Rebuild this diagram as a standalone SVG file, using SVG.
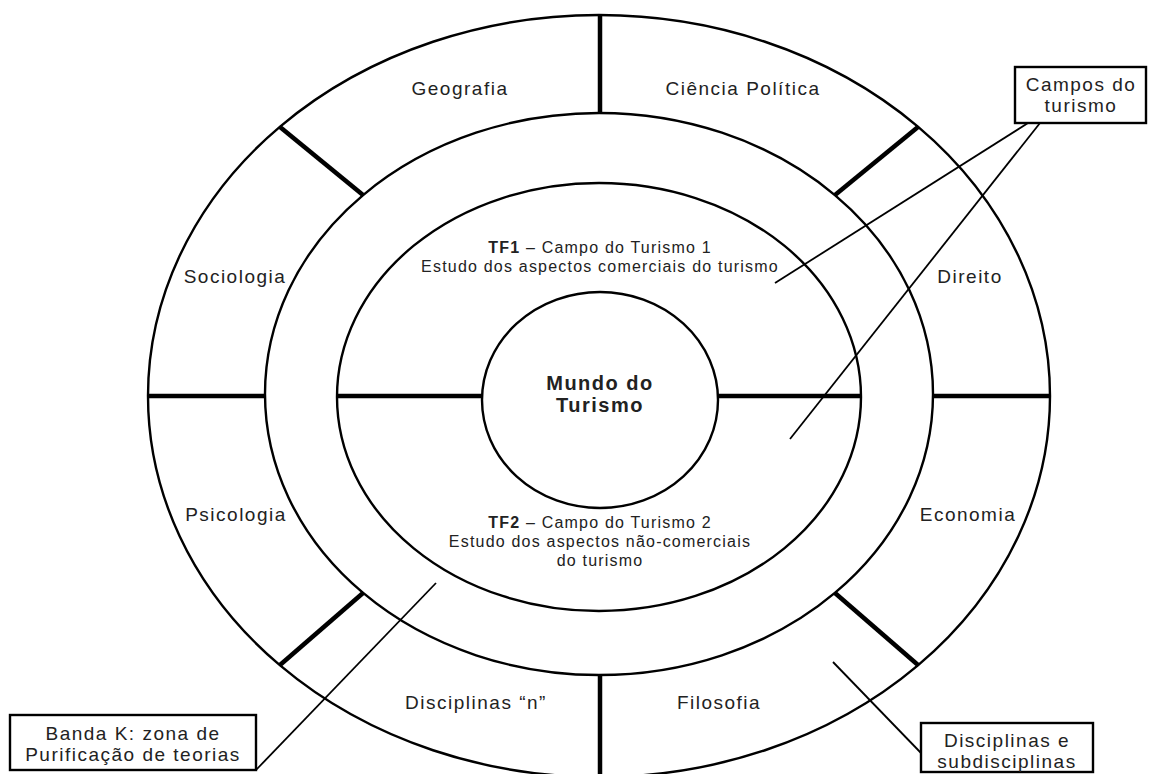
<svg xmlns="http://www.w3.org/2000/svg" width="1154" height="774" viewBox="0 0 1154 774">
<style>
.ring{fill:none;stroke:#000;stroke-width:2.4}
.div{stroke:#000;stroke-width:4.5;stroke-linecap:butt}
.lead{stroke:#000;stroke-width:1.8;fill:none}
.box{fill:#fff;stroke:#000;stroke-width:2.4}
.lbl{font-family:"Liberation Sans",Arial,sans-serif;font-size:19px;letter-spacing:1.5px;fill:#222;text-anchor:middle}
.sm{font-family:"Liberation Sans",Arial,sans-serif;font-size:16px;letter-spacing:1.2px;fill:#222;text-anchor:middle}
.ctr{font-family:"Liberation Sans",Arial,sans-serif;font-size:20px;font-weight:bold;letter-spacing:1.5px;fill:#222;text-anchor:middle}
</style>
<rect width="1154" height="774" fill="#fff"/>
<g id="rings">
<ellipse id="outer" class="ring" cx="599" cy="396" rx="451" ry="381"/>
<ellipse id="bandK" class="ring" cx="599" cy="394" rx="334" ry="281"/>
<ellipse id="tf" class="ring" cx="599" cy="397" rx="262" ry="214"/>
</g>
<g id="mundo">
<ellipse class="ring" cx="600" cy="400" rx="118" ry="108"/>
<text class="ctr" x="600" y="390">Mundo do</text>
<text class="ctr" x="600" y="412">Turismo</text>
</g>
<g id="dividers">
<line class="div" x1="600" y1="15" x2="600" y2="113"/>
<line class="div" x1="600" y1="675" x2="600" y2="777"/>
<line class="div" x1="148" y1="396" x2="265" y2="396"/>
<line class="div" x1="933" y1="396" x2="1050" y2="396"/>
<line class="div" x1="280" y1="127" x2="363" y2="195"/>
<line class="div" x1="918" y1="127" x2="835" y2="195"/>
<line class="div" x1="280" y1="665" x2="363" y2="593"/>
<line class="div" x1="918" y1="665" x2="835" y2="593"/>
<line class="div" x1="337" y1="396" x2="482" y2="396"/>
<line class="div" x1="718" y1="396" x2="861" y2="396"/>
</g>
<g id="disciplines">
<text class="lbl" x="460" y="95">Geografia</text>
<text class="lbl" x="743" y="95">Ciência Política</text>
<text class="lbl" x="235" y="283">Sociologia</text>
<text class="lbl" x="970" y="283">Direito</text>
<text class="lbl" x="236" y="521">Psicologia</text>
<text class="lbl" x="968" y="521">Economia</text>
<text class="lbl" x="476" y="709">Disciplinas “n”</text>
<text class="lbl" x="719" y="709">Filosofia</text>
</g>
<g id="tf1">
<text class="sm" x="600" y="253"><tspan font-weight="bold">TF1</tspan> – Campo do Turismo 1</text>
<text class="sm" x="600" y="272">Estudo dos aspectos comerciais  do turismo</text>
</g>
<g id="tf2">
<text class="sm" x="600" y="528"><tspan font-weight="bold">TF2</tspan> – Campo do Turismo 2</text>
<text class="sm" x="600" y="547">Estudo dos aspectos não-comerciais</text>
<text class="sm" x="600" y="566">do turismo</text>
</g>
<g id="connectors">
<line class="lead" x1="1028" y1="123" x2="775" y2="283"/>
<line class="lead" x1="1040" y1="123" x2="790" y2="439"/>
<line class="lead" x1="256" y1="770" x2="436" y2="583"/>
<line class="lead" x1="921" y1="753" x2="833" y2="662"/>
</g>
<g id="box-campos">
<rect class="box" x="1015" y="67" width="131" height="56"/>
<text class="lbl" x="1081" y="91">Campos do</text>
<text class="lbl" x="1081" y="112">turismo</text>
</g>
<g id="box-bandaK">
<rect class="box" x="10" y="715" width="246" height="55"/>
<text class="lbl" x="133" y="740">Banda K: zona de</text>
<text class="lbl" x="133" y="761">Purificação de teorias</text>
</g>
<g id="box-disciplinas">
<rect class="box" x="921" y="723" width="172" height="49"/>
<text class="lbl" x="1007" y="747">Disciplinas e</text>
<text class="lbl" x="1007" y="768">subdisciplinas</text>
</g>
</svg>
